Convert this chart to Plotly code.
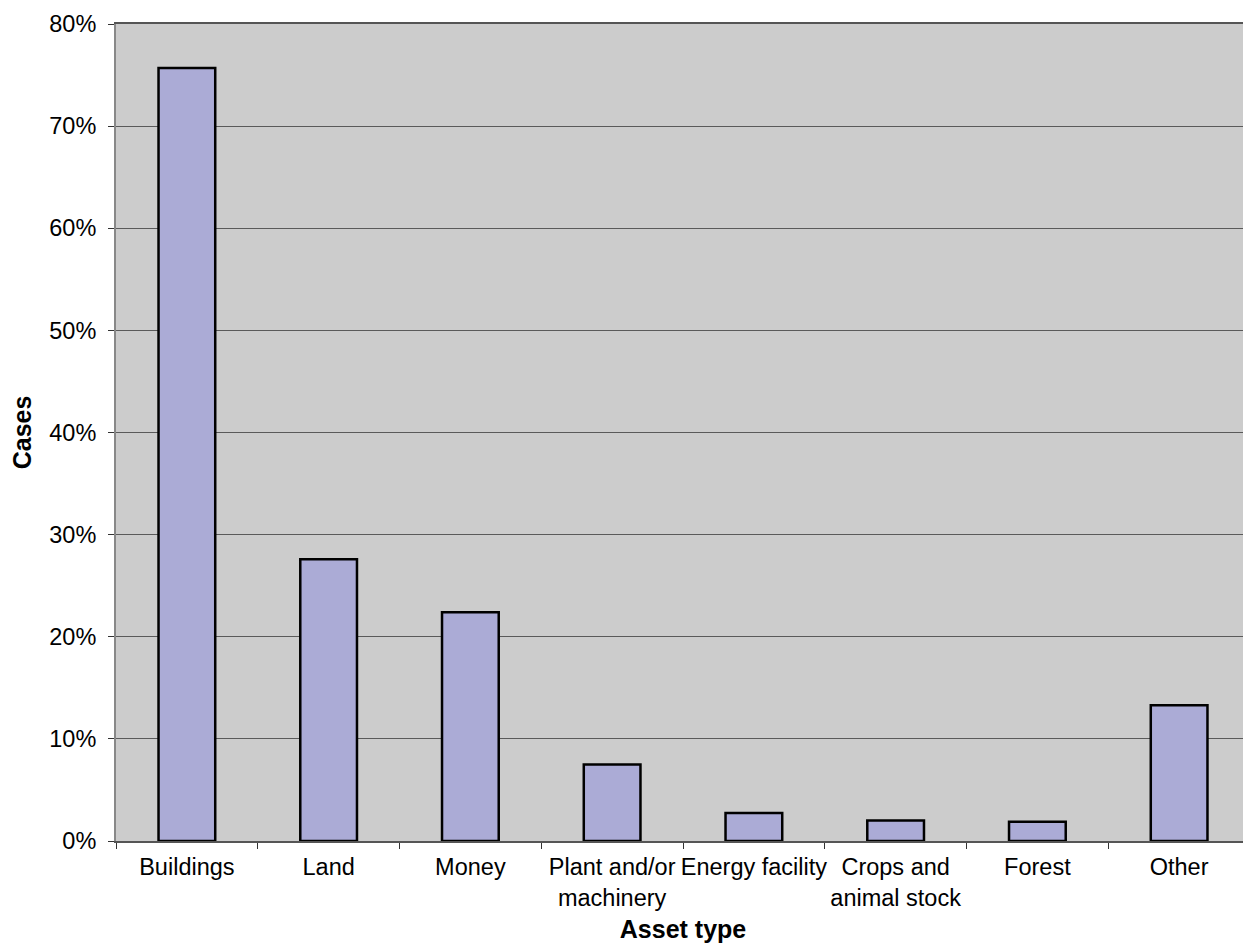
import plotly.graph_objects as go

categories = ["Buildings", "Land", "Money", "Plant and/or<br>machinery", "Energy facility",
              "Crops and<br>animal stock", "Forest", "Other"]
values = [0.757, 0.276, 0.224, 0.075, 0.0275, 0.020, 0.0188, 0.133]
y_ticks = [0, 0.1, 0.2, 0.3, 0.4, 0.5, 0.6, 0.7, 0.8]
y_ticktext = ["0%", "10%", "20%", "30%", "40%", "50%", "60%", "70%", "80%"]

FONT = "Liberation Sans, Arial, sans-serif"

fig = go.Figure(go.Bar(
    x=categories, y=values, width=0.4,
    marker=dict(color="#ababd6", line=dict(color="#000000", width=2.5)),
))

# page body has an 8px margin; compensate so the plot area sits where the reference has it
fig.update_layout(
    width=1251, height=946,
    margin=dict(l=108, r=9, t=16, b=113),
    paper_bgcolor="white", plot_bgcolor="#cccccc",
    font=dict(family=FONT, size=23.5, color="#000"),
    showlegend=False, bargap=0.6,
)
fig.update_xaxes(
    type="category", tickson="boundaries", ticks="outside", ticklen=6, tickcolor="#333",
    tickangle=0, ticklabelstandoff=4,
    showline=True, linecolor="#555", linewidth=1.5, mirror=True,
    showgrid=False, tickfont=dict(size=23.5),
    title=dict(text="<b>Asset type</b>", font=dict(size=25), standoff=11),
    automargin=False,
)
fig.update_yaxes(
    range=[0, 0.8], tickvals=y_ticks, ticktext=y_ticktext,
    ticks="outside", ticklen=6, tickcolor="#333", ticklabelstandoff=7,
    showline=True, linecolor="#888", linewidth=2, mirror=True,
    showgrid=True, gridcolor="#5a5a5a", gridwidth=1, zeroline=False,
    tickfont=dict(size=23.5),
    title=dict(text="<b>Cases</b>", font=dict(size=25), standoff=16),
    automargin=False,
)

fig.write_html("out.html")
